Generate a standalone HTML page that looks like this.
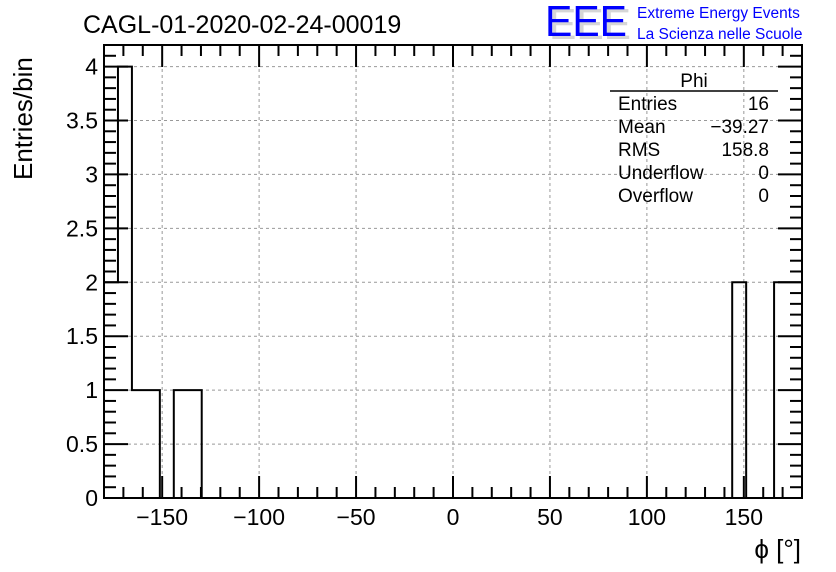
<!DOCTYPE html>
<html><head><meta charset="utf-8"><style>
body{margin:0;background:#fff;}
svg{display:block;font-family:"Liberation Sans",Arial,sans-serif;}
</style></head><body>
<svg id="c" width="836" height="572" viewBox="0 0 836 572">
<rect width="836" height="572" fill="#fff"/>
<g id="grid"></g>
<g id="bars"></g>
<g id="axes"></g>
<text x="83" y="33" font-size="25">CAGL-01-2020-02-24-00019</text>
<g>
<text x="549" y="39" font-size="44" fill="#bbb" textLength="82" lengthAdjust="spacingAndGlyphs" opacity="0.6">EEE</text>
<text x="545" y="36" font-size="44" fill="#00f" textLength="82" lengthAdjust="spacingAndGlyphs">EEE</text>
<text x="637" y="18" font-size="15.5" fill="#00f">Extreme Energy Events</text>
<text x="637" y="39" font-size="15.5" fill="#00f">La Scienza nelle Scuole</text>
</g>
<g font-size="19">
<text x="694" y="87" text-anchor="middle">Phi</text>
<line x1="610" y1="91" x2="778" y2="91" stroke="#000" stroke-width="1.5"/>
<text x="618" y="110">Entries</text><text x="769" y="110" text-anchor="end">16</text>
<text x="618" y="133">Mean</text><text x="769" y="133" text-anchor="end">−39.27</text>
<text x="618" y="156">RMS</text><text x="769" y="156" text-anchor="end">158.8</text>
<text x="618" y="179">Underflow</text><text x="769" y="179" text-anchor="end">0</text>
<text x="618" y="202">Overflow</text><text x="769" y="202" text-anchor="end">0</text>
</g>
<text x="801" y="558" font-size="26" text-anchor="end">ϕ [°]</text>
<text transform="translate(32,180) rotate(-90)" font-size="26" text-anchor="start">Entries/bin</text>
</svg>
<script>
const binCounts=[2,4,1,1,0,1,1,0,0,0,0,0,0,0,0,0,0,0,0,0,0,0,0,0,0,0,0,0,0,0,0,0,0,0,0,0,0,0,0,0,0,0,0,0,0,2,0,0,2,2];
const xMin=-180, xMax=180;
const yMin=0, yMax=4.2;
const xTickLabels=[-150,-100,-50,0,50,100,150];
const yTickLabels=[0,0.5,1,1.5,2,2.5,3,3.5,4];
const L=104,R=802,T=45,B=498;
const X=v=>L+(v-xMin)/(xMax-xMin)*(R-L);
const Y=v=>B-(v-yMin)/(yMax-yMin)*(B-T);
const NS="http://www.w3.org/2000/svg";
function mk(tag,attrs,parent){const e=document.createElementNS(NS,tag);for(const k in attrs)e.setAttribute(k,attrs[k]);parent.appendChild(e);return e;}
const grid=document.getElementById('grid'),bars=document.getElementById('bars'),axes=document.getElementById('axes');
xTickLabels.forEach(v=>{const l=mk('line',{x1:X(v),x2:X(v),y1:T,y2:B,stroke:'#999','stroke-dasharray':'3,3','stroke-width':1},grid);

});
yTickLabels.forEach(v=>{const l=mk('line',{x1:L,x2:R,y1:Y(v),y2:Y(v),stroke:'#999','stroke-dasharray':'3,3','stroke-width':1},grid);

});
const n=binCounts.length,w=(xMax-xMin)/n;
let d='M'+X(xMin)+','+Y(0);
binCounts.forEach((c,i)=>{d+=' L'+X(xMin+i*w)+','+Y(c)+' L'+X(xMin+(i+1)*w)+','+Y(c);});
d+=' L'+X(xMax)+','+Y(0);
const p=mk('path',{d:d,fill:'none',stroke:'#000','stroke-width':2},bars);


const f=mk('rect',{x:L,y:T,width:R-L,height:B-T,fill:'none',stroke:'#000','stroke-width':2},axes);


for(let v=xMin;v<=xMax;v+=10){const major=v%50===0;const len=major?22:11;
mk('line',{x1:X(v),x2:X(v),y1:B,y2:B-len,stroke:'#000','stroke-width':2},axes);
mk('line',{x1:X(v),x2:X(v),y1:T,y2:T+len,stroke:'#000','stroke-width':2},axes);}
xTickLabels.forEach(v=>{const t=mk('text',{x:X(v),y:525,'font-size':23,'text-anchor':'middle'},axes);
t.textContent=v<0?'−'+(-v):String(v);

});
for(let k=0;k<=42;k++){const v=k/10;const major=k%5===0;const len=major?24:12;
mk('line',{x1:L,x2:L+len,y1:Y(v),y2:Y(v),stroke:'#000','stroke-width':2},axes);
mk('line',{x1:R,x2:R-len,y1:Y(v),y2:Y(v),stroke:'#000','stroke-width':2},axes);}
yTickLabels.forEach(v=>{const t=mk('text',{x:98,y:Y(v)+8,'font-size':23,'text-anchor':'end'},axes);
t.textContent=String(v);

});
</script>
</body></html>
